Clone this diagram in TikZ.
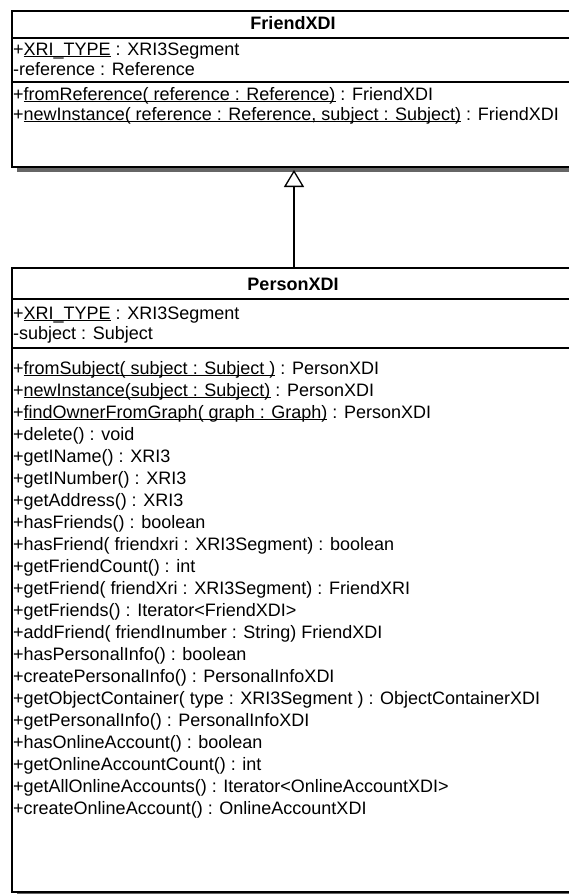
\documentclass[tikz,border=0pt]{standalone}
\usepackage{fontspec}
\setmainfont{Liberation Sans}
\usetikzlibrary{arrows.meta,shadows}
% underline for static members, at a fixed depth below the baseline
\newcommand\staticul[1]{\setbox0=\hbox{#1}\rlap{\rule[-2.2pt]{\wd0}{0.9pt}}\box0\relax}
\begin{document}
\begin{tikzpicture}[x=1pt,y=-1pt,
  classbox/.style={draw=black, line width=2pt, fill=white, inner sep=0pt,
    anchor=north west, minimum width=564pt,
    drop shadow={opacity=1, fill=black!60, shadow xshift=5pt, shadow yshift=-5pt}},
  sepline/.style={line width=2pt},
  member/.style={anchor=base west, inner sep=0pt, font=\fontsize{18}{21}\selectfont},
  classname/.style={anchor=base, inner sep=0pt, font=\fontsize{18}{21}\selectfont\bfseries},
  generalization/.style={line width=1.3pt, -{Triangle[open, fill=white, width=20pt, length=17pt, line width=1.3pt]}}
]
\clip (0,0) rectangle (569,894);
\fill[white] (0,0) rectangle (569,894);

% ---- FriendXDI ----
\node[classbox, minimum height=156pt] (friend) at (11,10) {};
\draw[sepline] ([yshift=-28pt]friend.north west) -- ([yshift=-28pt]friend.north east);
\draw[sepline] ([yshift=-72pt]friend.north west) -- ([yshift=-72pt]friend.north east);
\node[classname] (friendname) at (293,29) {FriendXDI};
\node[member] (fa1) at (13,55) {+\staticul{XRI\_TYPE} : XRI3Segment};
\node[member] (fa2) at (13,75) {-reference : Reference};
\node[member] (fm1) at (13,100) {+\staticul{fromReference( reference : Reference)} : FriendXDI};
\node[member] (fm2) at (13,120) {+\staticul{newInstance( reference : Reference, subject : Subject)} : FriendXDI};

% ---- PersonXDI ----
\node[classbox, minimum height=624pt] (person) at (11,267) {};
\draw[sepline] ([yshift=-32pt]person.north west) -- ([yshift=-32pt]person.north east);
\draw[sepline] ([yshift=-81pt]person.north west) -- ([yshift=-81pt]person.north east);
\node[classname] (personname) at (293,290) {PersonXDI};
\node[member] (pa1) at (13,319) {+\staticul{XRI\_TYPE} : XRI3Segment};
\node[member] (pa2) at (13,339) {-subject : Subject};
\foreach \txt [count=\i from 0] in {
  {+\staticul{fromSubject( subject : Subject )} : PersonXDI},
  {+\staticul{newInstance(subject : Subject)} : PersonXDI},
  {+\staticul{findOwnerFromGraph( graph : Graph)} : PersonXDI},
  {+delete() : void},
  {+getIName() : XRI3},
  {+getINumber() : XRI3},
  {+getAddress() : XRI3},
  {+hasFriends() : boolean},
  {+hasFriend( friendxri : XRI3Segment) : boolean},
  {+getFriendCount() : int},
  {+getFriend( friendXri : XRI3Segment) : FriendXRI},
  {+getFriends() : Iterator<FriendXDI>},
  {+addFriend( friendInumber : String) FriendXDI},
  {+hasPersonalInfo() : boolean},
  {+createPersonalInfo() : PersonalInfoXDI},
  {+getObjectContainer( type : XRI3Segment ) : ObjectContainerXDI},
  {+getPersonalInfo() : PersonalInfoXDI},
  {+hasOnlineAccount() : boolean},
  {+getOnlineAccountCount() : int},
  {+getAllOnlineAccounts() : Iterator<OnlineAccountXDI>},
  {+createOnlineAccount() : OnlineAccountXDI}}
  \node[member] (pm\i) at (13,{374+22*\i}) {\txt};

% ---- inheritance ----
\draw[generalization] (person.north) -- ([yshift=-2pt]friend.south);
\end{tikzpicture}
\end{document}
